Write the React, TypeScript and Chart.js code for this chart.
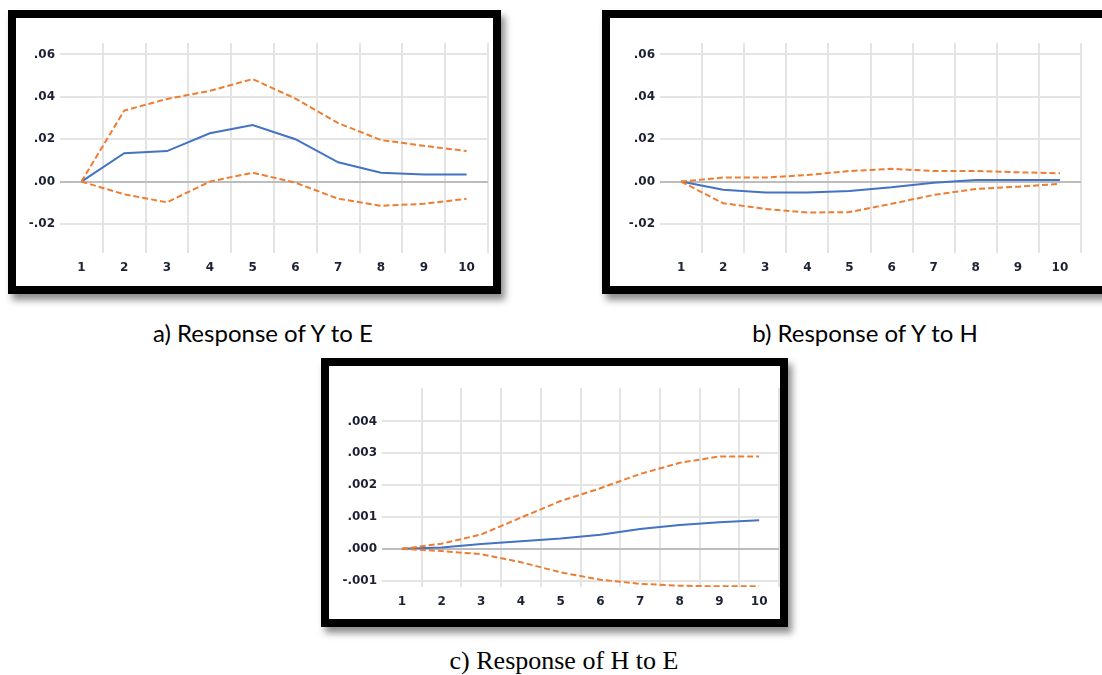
import React, { useEffect, useRef } from "react";
import { Chart, registerables } from "chart.js";

Chart.register(...registerables);

// ---------- data ----------
const periods = ["1", "2", "3", "4", "5", "6", "7", "8", "9", "10"];

// a) Response of Y to E
const respYE = [0, 0.0134, 0.0144, 0.0228, 0.0267, 0.02, 0.0091, 0.0042, 0.0033, 0.0033];
const upperYE = [0, 0.0335, 0.039, 0.0428, 0.0484, 0.0392, 0.0276, 0.0196, 0.0169, 0.0144];
const lowerYE = [0, -0.006, -0.0098, 0.0, 0.0042, -0.0005, -0.0081, -0.0114, -0.0105, -0.0081];

// b) Response of Y to H
const respYH = [0, -0.0039, -0.0052, -0.0052, -0.0044, -0.0027, -0.0005, 0.0008, 0.0008, 0.0008];
const upperYH = [0, 0.0019, 0.0019, 0.0031, 0.005, 0.006, 0.005, 0.005, 0.0044, 0.0039];
const lowerYH = [0, -0.0102, -0.0129, -0.0146, -0.0144, -0.0105, -0.0063, -0.0035, -0.0024, -0.0011];

// c) Response of H to E
const respHE = [0, 0.00004, 0.00015, 0.00024, 0.00032, 0.00044, 0.00062, 0.00075, 0.00083, 0.0009];
const upperHE = [0, 0.00016, 0.00045, 0.00098, 0.0015, 0.0019, 0.00235, 0.0027, 0.0029, 0.0029];
const lowerHE = [0, -0.00007, -0.00017, -0.00042, -0.00074, -0.00097, -0.0011, -0.00116, -0.00118, -0.00118];

// tick values / labels
const yTicksAB = [-0.02, 0, 0.02, 0.04, 0.06];
const yTickLabelsAB = ["-.02", ".00", ".02", ".04", ".06"];
const yTicksC = [-0.001, 0, 0.001, 0.002, 0.003, 0.004];
const yTickLabelsC = ["-.001", ".000", ".001", ".002", ".003", ".004"];

const captionA = "a) Response of Y to E";
const captionB = "b) Response of Y to H";
const captionC = "c) Response of H to E";

// ---------- styles ----------
const BLUE = "#4472c4";
const ORANGE = "#ed7d31";
const GRID = "#e4e4e4";
const ZERO = "#bdbdbd";
const TICK_FONT = { family: "DejaVu Sans", size: 12, weight: "bold" as const };
const TICK_COLOR = "#1c2233";

type PanelProps = {
  left: number;
  top: number;
  width: number;
  height: number;
  padTop: number;
  padRight: number;
  yAxisW: number;
  xAxisH: number;
  yMin: number;
  yMax: number;
  yTicks: number[];
  yLabels: string[];
  resp: number[];
  upper: number[];
  lower: number[];
};

function Panel(p: PanelProps) {
  const ref = useRef<HTMLCanvasElement | null>(null);
  useEffect(() => {
    if (!ref.current) return;
    const n = periods.length;
    const chart = new Chart(ref.current, {
      type: "line",
      data: {
        labels: periods,
        datasets: [
          {
            data: p.upper,
            borderColor: ORANGE,
            borderWidth: 2,
            borderDash: [6, 3],
            pointRadius: 0,
            tension: 0,
            fill: false,
          },
          {
            data: p.lower,
            borderColor: ORANGE,
            borderWidth: 2,
            borderDash: [6, 3],
            pointRadius: 0,
            tension: 0,
            fill: false,
          },
          {
            data: p.resp,
            borderColor: BLUE,
            borderWidth: 2,
            pointRadius: 0,
            tension: 0,
            fill: false,
          },
        ],
      },
      options: {
        responsive: false,
        animation: false,
        layout: { padding: { top: p.padTop, right: p.padRight, left: 0, bottom: 0 } },
        plugins: { legend: { display: false }, tooltip: { enabled: false } },
        scales: {
          x: {
            type: "category",
            offset: true,
            grid: {
              offset: true,
              drawTicks: false,
              lineWidth: 2,
              color: (ctx: any) =>
                ctx.index === 0 || ctx.index === n ? "rgba(0,0,0,0)" : GRID,
            },
            border: { display: false },
            ticks: {
              padding: 8,
              autoSkip: false,
              maxRotation: 0,
              font: TICK_FONT,
              color: TICK_COLOR,
            },
            afterFit: (s: any) => {
              s.height = p.xAxisH;
            },
          },
          y: {
            type: "linear",
            min: p.yMin,
            max: p.yMax,
            afterBuildTicks: (s: any) => {
              s.ticks = p.yTicks.map((v) => ({ value: v }));
            },
            grid: {
              drawTicks: false,
              lineWidth: 2,
              color: (ctx: any) =>
                ctx.tick && Math.abs(ctx.tick.value) < 1e-12 ? ZERO : GRID,
            },
            border: { display: false },
            ticks: {
              padding: 5,
              font: TICK_FONT,
              color: TICK_COLOR,
              callback: (_v: any, i: number) => p.yLabels[i],
            },
            afterFit: (s: any) => {
              s.width = p.yAxisW;
            },
          },
        },
      },
    });
    return () => chart.destroy();
  }, []);

  return (
    <div
      style={{
        position: "absolute",
        left: p.left,
        top: p.top,
        width: p.width,
        height: p.height,
        border: "8px solid #000",
        background: "#fff",
        boxShadow: "4px 6px 7px rgba(0,0,0,0.45)",
      }}
    >
      <canvas ref={ref} width={p.width} height={p.height} style={{ display: "block" }} />
    </div>
  );
}

function Caption(props: { text: string; cx: number; cy: number; font: string; size: number }) {
  return (
    <div
      style={{
        position: "absolute",
        left: props.cx - 200,
        top: props.cy - props.size * 0.65,
        width: 400,
        textAlign: "center",
        fontFamily: props.font,
        fontSize: props.size,
        lineHeight: `${props.size * 1.3}px`,
        color: "#000",
        whiteSpace: "nowrap",
      }}
    >
      {props.text}
    </div>
  );
}

export default function App() {
  return (
    <div
      style={{
        position: "absolute",
        left: 0,
        top: 0,
        width: 1102,
        height: 675,
        overflow: "hidden",
        background: "#fff",
      }}
    >
      <Panel
        left={8}
        top={10}
        width={477}
        height={268}
        padTop={25}
        padRight={5}
        yAxisW={44}
        xAxisH={33}
        yMin={-0.0337}
        yMax={0.0654}
        yTicks={yTicksAB}
        yLabels={yTickLabelsAB}
        resp={respYE}
        upper={upperYE}
        lower={lowerYE}
      />
      <Panel
        left={602}
        top={10}
        width={500}
        height={268}
        padTop={25}
        padRight={29}
        yAxisW={50}
        xAxisH={33}
        yMin={-0.0337}
        yMax={0.0654}
        yTicks={yTicksAB}
        yLabels={yTickLabelsAB}
        resp={respYH}
        upper={upperYH}
        lower={lowerYH}
      />
      <Panel
        left={321}
        top={358}
        width={451}
        height={253}
        padTop={22}
        padRight={1}
        yAxisW={53}
        xAxisH={32}
        yMin={-0.0012}
        yMax={0.00505}
        yTicks={yTicksC}
        yLabels={yTickLabelsC}
        resp={respHE}
        upper={upperHE}
        lower={lowerHE}
      />
      <Caption text={captionA} cx={263} cy={333} font="Lato, 'Open Sans', sans-serif" size={24} />
      <Caption text={captionB} cx={865} cy={333} font="Lato, 'Open Sans', sans-serif" size={24} />
      <Caption text={captionC} cx={564} cy={661} font="'Liberation Serif', 'Times New Roman', serif" size={26} />
    </div>
  );
}
